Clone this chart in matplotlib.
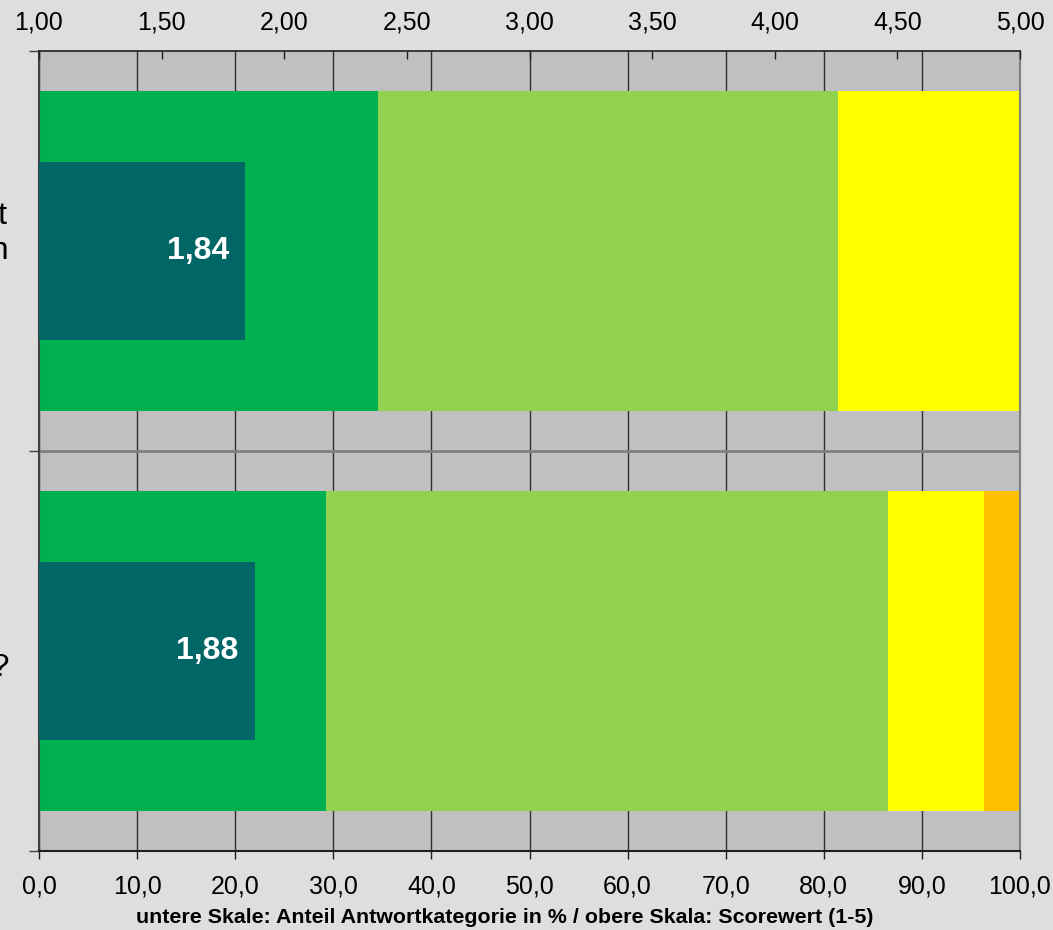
import matplotlib
matplotlib.use("Agg")
import matplotlib.pyplot as plt
import matplotlib.transforms as mtransforms
from matplotlib.ticker import FuncFormatter

plt.rcParams['font.family'] = ['Liberation Sans', 'DejaVu Sans']

# ---- data ----
categories = [
    "Wie zufrieden sind Sie insgesamt\nmit der Unterstützung durch Ihren\nAusbilder?",
    "Würden Sie die Ausbildung\nin Ihrem Betrieb weiterempfehlen?",
]
segment_colors = ["#00b050", "#92d050", "#ffff00", "#ffc000"]
pct_cat1 = [34.6, 29.3]   # sehr gut
pct_cat2 = [46.8, 57.2]   # gut
pct_cat3 = [18.6, 9.8]    # mittel
pct_cat4 = [0.0, 3.7]     # schlecht
scores = [1.84, 1.88]
bottom_ticks = [0, 10, 20, 30, 40, 50, 60, 70, 80, 90, 100]
top_ticks = [1.0, 1.5, 2.0, 2.5, 3.0, 3.5, 4.0, 4.5, 5.0]
xlabel_text = "untere Skale: Anteil Antwortkategorie in % / obere Skala: Scorewert (1-5)"

W, H, DPI = 1053, 930, 100
fig = plt.figure(figsize=(W / DPI, H / DPI), dpi=DPI, facecolor="#dedede")
ax = fig.add_axes([39 / W, (H - 851) / H, (1020 - 39) / W, 800 / H])
ax.set_facecolor("#c0c0c0")

centers = [0.5 + i for i in range(len(categories))]

# stacked percentage bars
lefts = [0.0] * len(categories)
for vals, col in zip([pct_cat1, pct_cat2, pct_cat3, pct_cat4], segment_colors):
    ax.barh(centers, vals, left=lefts, height=0.8, color=col, edgecolor="none", zorder=2)
    lefts = [l + v for l, v in zip(lefts, vals)]

ax.set_xlim(0, 100)
ax.set_ylim(2, 0)
ax.set_xticks(bottom_ticks)
ax.xaxis.set_major_formatter(FuncFormatter(lambda v, p: f"{v:.1f}".replace(".", ",")))
ax.tick_params(axis="x", direction="out", length=6, width=1, color="#202020",
               labelsize=18, pad=11, top=False, labeltop=False)
ax.set_yticks([0, 1, 2])
ax.set_yticklabels([])
ax.tick_params(axis="y", direction="out", length=7, width=1, color="#404040")
ax.set_axisbelow(True)
ax.grid(axis="x", color="#303030", linewidth=1, zorder=0.5)
ax.axhline(1, color="#808080", linewidth=2, zorder=1)

ax.spines["left"].set_color("#404040")
ax.spines["left"].set_linewidth(1.5)
ax.spines["bottom"].set_color("#202020")
ax.spines["bottom"].set_linewidth(1.5)
ax.spines["right"].set_color("#808080")
ax.spines["right"].set_linewidth(1.5)
ax.spines["top"].set_color("#202020")
ax.spines["top"].set_linewidth(1.2)

# score bars on the upper scale
ax2 = ax.twiny()
ax2.set_xlim(1, 5)
ax2.barh(centers, [s - 1 for s in scores], left=1, height=0.445,
         color="#006666", edgecolor="none", zorder=3)
for c, s in zip(centers, scores):
    ax2.annotate(f"{s:.2f}".replace(".", ","), xy=(s, c), xytext=(-11.5, 0),
                 textcoords="offset points", ha="right", va="center",
                 color="white", fontsize=23, fontweight="bold", zorder=4)
ax2.set_xticks(top_ticks)
ax2.xaxis.set_major_formatter(FuncFormatter(lambda v, p: f"{v:.2f}".replace(".", ",")))
ax2.tick_params(axis="x", direction="in", length=6, width=1, color="#202020",
                labelsize=18, pad=12)
for sp in ax2.spines.values():
    sp.set_visible(False)

# category labels (cut at the left edge as in the original)
trans = mtransforms.blended_transform_factory(fig.transFigure, ax.transData)
for c, lab in zip(centers, categories):
    fig.text(9 / W, c, lab, transform=trans, ha="right", va="center",
             multialignment="center", fontsize=23, color="#000000")

fig.text(504.5 / W, 1 - 917 / H, xlabel_text, ha="center", va="center",
         fontsize=15.4, fontweight="bold", color="#000000")

fig.savefig("out.png", dpi=DPI, facecolor=fig.get_facecolor())
